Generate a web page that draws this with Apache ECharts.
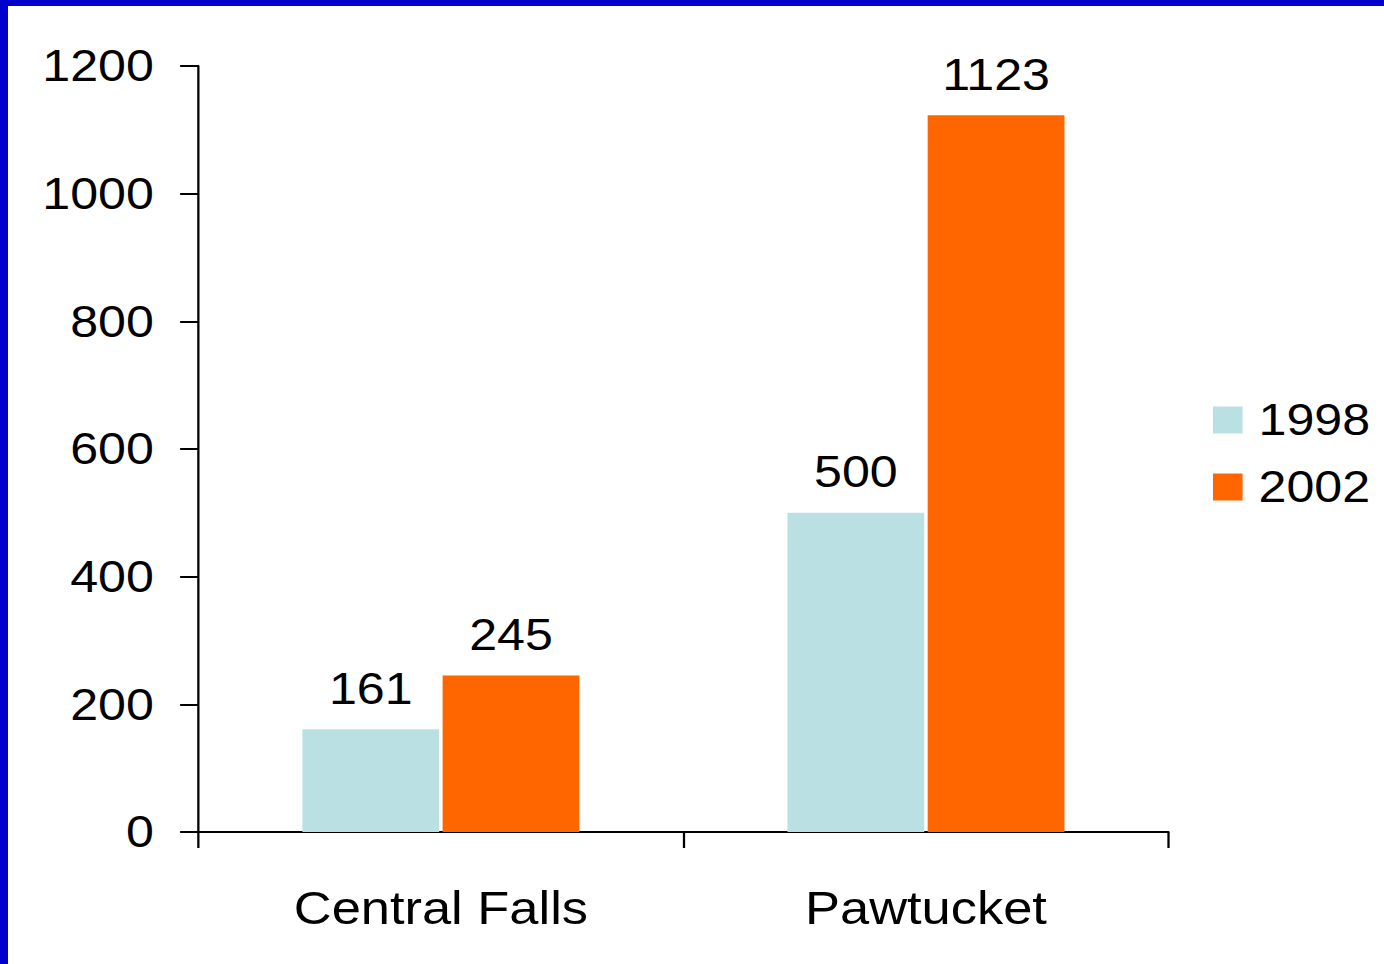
<!DOCTYPE html>
<html>
<head>
<meta charset="utf-8">
<script src="https://cdn.jsdelivr.net/npm/echarts@6/dist/echarts.min.js"></script>
<style>
  html, body { margin: 0; padding: 0; background: #fff; overflow: hidden; }
  /* the original slide is stretched sideways, so draw narrow and widen */
  #chart { position: absolute; left: 0; top: 0; width: 1214px; height: 964px;
           transform: scaleX(1.14); transform-origin: 0 0; }
  .edge { position: absolute; background: #0000cc; }
</style>
</head>
<body>
<div id="chart"></div>
<div class="edge" style="left:0;top:0;width:1384px;height:6px"></div>
<div class="edge" style="left:0;top:0;width:8px;height:964px"></div>
<script>
var cities = ['Central Falls', 'Pawtucket'];
var years = ['1998', '2002'];
var values1998 = [161, 500];
var values2002 = [245, 1123];
var yTicks = [0, 200, 400, 600, 800, 1000, 1200];

var font = 'Liberation Sans, Arial, sans-serif';
var chart = echarts.init(document.getElementById('chart'), null, { renderer: 'svg' });

function barSeries(name, data, color) {
	return {
		name: name,
		type: 'bar',
		data: data,
		barWidth: 120,
		barGap: '2.5%',
		itemStyle: { color: color },
		label: {
			show: true,
			position: 'top',
			distance: 19,
			color: '#000',
			fontSize: 44,
			fontFamily: font
		}
	};
}

chart.setOption({
	animation: false,
	grid: { left: 174, right: 189, top: 66, bottom: 132, containLabel: false },
	legend: {
		orient: 'vertical',
		left: 1059,
		top: 393,
		itemWidth: 26,
		itemHeight: 27,
		itemGap: 23,
		icon: 'rect',
		textStyle: { fontSize: 44, fontFamily: font, color: '#000', padding: [0, 0, 0, 9] },
		data: years
	},
	xAxis: {
		type: 'category',
		data: cities,
		axisLine: { lineStyle: { color: '#000', width: 2 } },
		axisTick: { show: true, alignWithLabel: false, length: 16, lineStyle: { color: '#000', width: 2 } },
		axisLabel: { color: '#000', fontSize: 46, fontFamily: font, margin: 53 }
	},
	yAxis: {
		type: 'value',
		min: yTicks[0],
		max: yTicks[yTicks.length - 1],
		interval: 200,
		splitLine: { show: false },
		axisLine: { show: true, lineStyle: { color: '#000', width: 2 } },
		axisTick: { show: true, length: 16, lineStyle: { color: '#000', width: 2 } },
		axisLabel: {
			color: '#000', fontSize: 44, fontFamily: font, margin: 39,
			formatter: function (v) { return String(v); }
		}
	},
	series: [
		barSeries(years[0], values1998, '#bbe0e3'),
		barSeries(years[1], values2002, '#ff6600')
	]
});
</script>
</body>
</html>
